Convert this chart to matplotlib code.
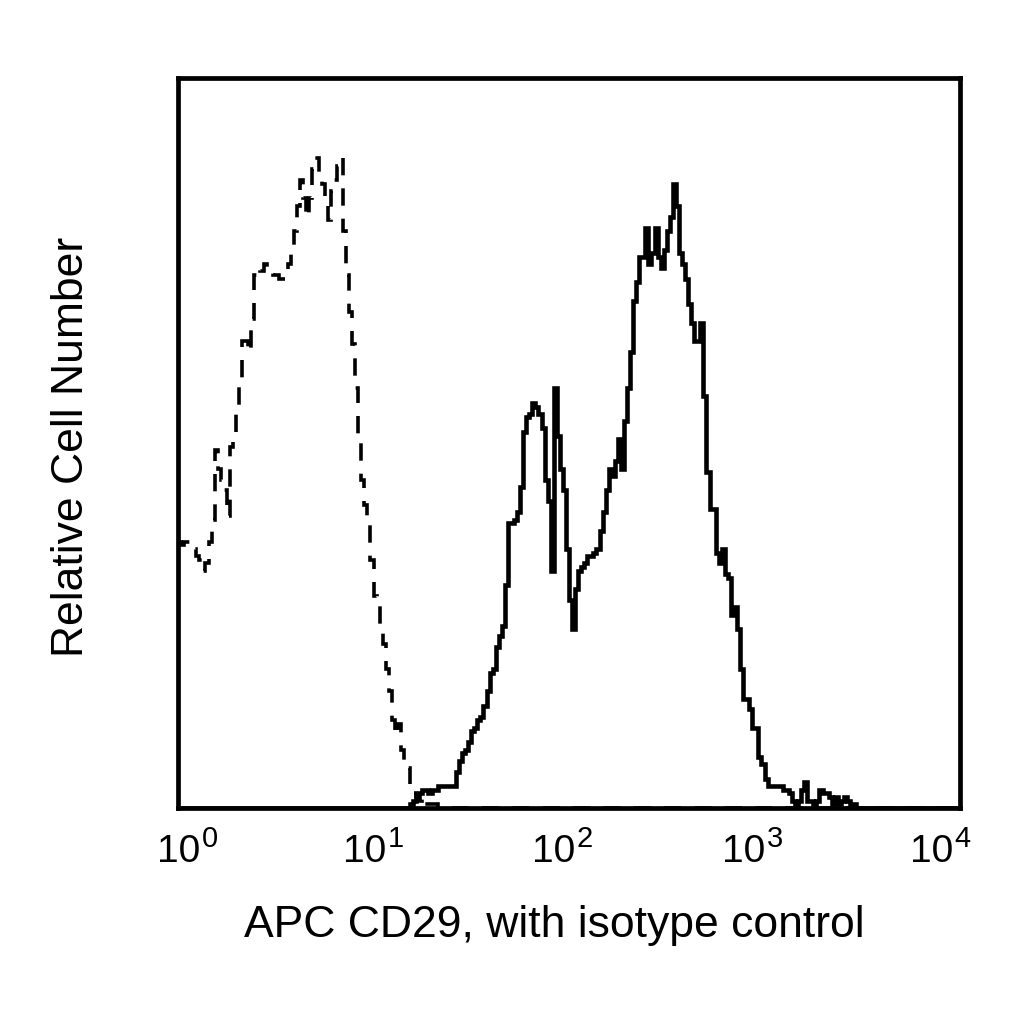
import numpy as np
import matplotlib
matplotlib.use("Agg")
import matplotlib.pyplot as plt

plt.rcParams['font.family'] = ['Liberation Sans', 'DejaVu Sans']

# 256-channel, 4-decade log amplifier: intensity = 10 ** (channel / 64)
channels_per_decade = 64
n_channels = 256

# Isotype control histogram (dashed), counts for channels 0..
isotype_counts = [
    73, 72, 73, 73, 71, 71, 69, 68, 65, 67,
    73, 79, 98, 93, 90, 87, 80, 99, 101, 109,
    117, 128, 128, 125, 134, 146, 148, 147, 149, 147,
    147, 146, 146, 145, 145, 146, 149, 153, 158, 165,
    172, 167, 162, 167, 175, 178, 174, 171, 165, 161,
    169, 172, 176, 178, 158, 146, 136, 127, 115, 101,
    90, 83, 78, 68, 58, 56, 50, 45, 38, 32,
    24, 20, 23, 16, 13, 11, 5, 4, 3, 2,
    3, 1, 1, 1, 1, 0, 0, 0, 0, 0,
    0, 0, 0, 0, 0, 0, 0, 0, 0, 0,
]

# APC CD29 histogram (solid), counts starting at channel 76
cd29_start = 76
cd29_counts = [
    1, 2, 3, 4, 5, 5, 4, 5, 5, 6,
    6, 6, 6, 6, 6, 10, 13, 15, 16, 18,
    21, 22, 24, 25, 28, 32, 37, 38, 44, 47,
    50, 61, 78, 78, 79, 81, 88, 103, 107, 108,
    111, 110, 108, 104, 90, 84, 65, 115, 102, 93,
    87, 71, 57, 49, 60, 65, 66, 67, 69, 69,
    70, 71, 76, 81, 87, 93, 91, 95, 101, 93,
    106, 115, 125, 139, 144, 151, 151, 159, 149, 152,
    159, 151, 148, 153, 158, 162, 171, 165, 152, 149,
    145, 138, 133, 128, 128, 133, 113, 92, 82, 82,
    70, 67, 71, 64, 63, 53, 55, 49, 38, 30,
    30, 27, 22, 22, 14, 12, 8, 6, 6, 6,
    6, 6, 5, 5, 4, 2, 1, 2, 5, 7,
    2, 2, 1, 2, 5, 4, 4, 3, 1, 3,
    1, 2, 3, 2, 1, 1, 0, 0, 0, 0,
]

x_label = "APC CD29, with isotype control"
y_label = "Relative Cell Number"
tick_decades = [0, 1, 2, 3, 4]
tick_label_pos = [0.028, 0.266, 0.508, 0.751, 0.991]  # axes fraction (junction of base/exponent)
y_max = 200

fig = plt.figure(figsize=(10.24, 10.24), dpi=100)
ax = fig.add_axes([178/1024, 1-808/1024, 782/1024, 730/1024])

iso = np.zeros(n_channels)
iso[:len(isotype_counts)] = isotype_counts
cd = np.zeros(n_channels)
cd[cd29_start:cd29_start+len(cd29_counts)] = cd29_counts
edges = 10 ** (np.arange(n_channels + 1) / channels_per_decade)

ax.stairs(iso, edges, color='black', linewidth=2.6, linestyle=(0, (4.8, 3.6)), baseline=None)
ax.stairs(cd, edges, color='black', linewidth=3.3, baseline=None)

ax.set_xscale('log')
ax.set_xlim(1, 10 ** 4)
ax.set_ylim(0, y_max)
ax.set_xticks([])
ax.set_yticks([])
ax.minorticks_off()
for s in ax.spines.values():
    s.set_linewidth(3.4)

base_y = -(862 - 808) / 730
exp_y = -(847 - 808) / 730
for d, p in zip(tick_decades, tick_label_pos):
    ax.text(p, base_y, "10", transform=ax.transAxes, ha='right', va='baseline', fontsize=28)
    ax.text(p + 0.002, exp_y, str(d), transform=ax.transAxes, ha='left', va='baseline', fontsize=21)

fig.text(554/1024, 1-926/1024, x_label, ha='center', va='center', fontsize=32)
fig.text(72/1024, 1-447/1024, y_label, ha='center', va='center', fontsize=32, rotation=90)

fig.savefig('out.png', dpi=100)
